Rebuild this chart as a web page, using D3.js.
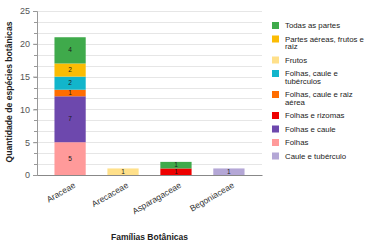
<!DOCTYPE html>
<html lang="en">
<head>
<meta charset="UTF-8"/>
<title>Famílias Botânicas</title>
<script src="https://d3js.org/d3.v7.js"></script>
<style>
  body { margin: 0; background: #fff; }
  text { font-family: "Liberation Sans", Arial, sans-serif; }
</style>
</head>
<body>
<div id="chart"></div>
<script>
// families on the x axis
const families = ["Araceae", "Arecaceae", "Asparagaceae", "Begoniaceae"];

// stack order, bottom to top
const keys = ["Caule e tubérculo", "Folhas", "Folhas e caule", "Folhas e rizomas",
  "Folhas, caule e raiz aérea", "Folhas, caule e tubérculos", "Frutos",
  "Partes aéreas, frutos e raiz", "Todas as partes"];

// values per key, one per family
const cauleTuberculo = [0, 0, 0, 1];
const folhas = [5, 0, 0, 0];
const folhasCaule = [7, 0, 0, 0];
const folhasRizomas = [0, 0, 1, 0];
const folhasCauleRaiz = [1, 0, 0, 0];
const folhasCauleTuber = [2, 0, 0, 0];
const frutos = [0, 1, 0, 0];
const partesAereas = [2, 0, 0, 0];
const todasPartes = [4, 0, 1, 0];

const colors = ["#b4a7d6", "#ff9a9a", "#6d48ad", "#ee0000", "#ff6d01",
  "#12b5cb", "#ffe08a", "#fbbc04", "#3faa4b"];

// legend order (top to bottom)
const legendKeys = ["Todas as partes", "Partes aéreas, frutos e raiz", "Frutos",
  "Folhas, caule e tubérculos", "Folhas, caule e raiz aérea", "Folhas e rizomas",
  "Folhas e caule", "Folhas", "Caule e tubérculo"];
const legendLines = {
  "Partes aéreas, frutos e raiz": ["Partes aéreas, frutos e", "raiz"],
  "Folhas, caule e tubérculos": ["Folhas, caule e", "tubérculos"],
  "Folhas, caule e raiz aérea": ["Folhas, caule e raiz", "aérea"]
};

const yTicks = [0, 5, 10, 15, 20, 25];

const series = [cauleTuberculo, folhas, folhasCaule, folhasRizomas, folhasCauleRaiz,
  folhasCauleTuber, frutos, partesAereas, todasPartes];
const data = families.map((f, i) => {
  const row = {family: f};
  keys.forEach((k, j) => row[k] = series[j][i]);
  return row;
});

const W = 370, H = 245;
const margin = {top: 11, right: 108, bottom: 70, left: 37};
const width = W - margin.left - margin.right,
      height = H - margin.top - margin.bottom;

const svgRoot = d3.select("#chart").append("svg")
  .attr("width", W).attr("height", H);
const svg = svgRoot.append("g")
  .attr("transform", `translate(${margin.left},${margin.top})`);

const x = d3.scaleBand().domain(families).range([0, width]).paddingInner(0.41).paddingOuter(0.33);
const y = d3.scaleLinear().domain([0, 25]).range([height, 0]);
const color = d3.scaleOrdinal().domain(keys).range(colors);

// grid every 5/3 units
const minor = d3.range(0, 25.01, 5 / 3);
svg.append("g").selectAll("line").data(minor).join("line")
  .attr("x1", 0).attr("x2", width)
  .attr("y1", d => Math.round(y(d)) + 0.5).attr("y2", d => Math.round(y(d)) + 0.5)
  .attr("stroke", "#e6e6e6").attr("stroke-width", 1);
// minor ticks on the axis
svg.append("g").selectAll("line").data(minor).join("line")
  .attr("x1", -3).attr("x2", 0)
  .attr("y1", d => Math.round(y(d)) + 0.5).attr("y2", d => Math.round(y(d)) + 0.5)
  .attr("stroke", "#999");

const yAxis = svg.append("g")
  .call(d3.axisLeft(y).tickValues(yTicks).tickSize(4).tickPadding(3));
yAxis.select(".domain").attr("stroke", "#999");
yAxis.selectAll(".tick line").attr("stroke", "#999");
yAxis.selectAll("text").attr("font-size", 9).attr("fill", "#555")
  .attr("font-family", "Liberation Sans, Arial, sans-serif");

const stacked = d3.stack().keys(keys)(data);

const layers = svg.append("g").selectAll("g").data(stacked).join("g")
  .attr("fill", d => color(d.key));
layers.selectAll("rect").data(d => d.filter(s => s[1] - s[0] > 0)).join("rect")
  .attr("x", d => x(d.data.family))
  .attr("y", d => y(d[1]))
  .attr("width", x.bandwidth())
  .attr("height", d => y(d[0]) - y(d[1]));
layers.selectAll("text").data(d => d.filter(s => s[1] - s[0] > 0)).join("text")
  .attr("x", d => x(d.data.family) + x.bandwidth() / 2)
  .attr("y", d => (y(d[0]) + y(d[1])) / 2 + 2)
  .attr("text-anchor", "middle")
  .attr("font-size", 6.5)
  .attr("fill", "#1a1a1a")
  .text(d => d[1] - d[0]);

// x axis
const xAxis = svg.append("g")
  .attr("transform", `translate(0,${height})`)
  .call(d3.axisBottom(x).tickSize(0).tickSizeOuter(0));
xAxis.select(".domain").attr("stroke", "#888").attr("stroke-width", 1.2);
xAxis.selectAll("text")
  .attr("font-size", 8.5).attr("fill", "#333")
  .attr("font-family", "Liberation Sans, Arial, sans-serif")
  .attr("text-anchor", "end")
  .attr("dy", null).attr("y", 0)
  .attr("transform", "translate(6,12) rotate(-30)");

// axis titles
svgRoot.append("text")
  .attr("transform", `translate(12,${margin.top + height / 2 - 1}) rotate(-90)`)
  .attr("text-anchor", "middle")
  .attr("font-size", 8.6).attr("font-weight", "bold").attr("fill", "#222")
  .text("Quantidade de espécies botânicas");
svgRoot.append("text")
  .attr("x", 149.5).attr("y", 240)
  .attr("text-anchor", "middle")
  .attr("font-size", 8.5).attr("font-weight", "bold").attr("fill", "#222")
  .text("Famílias Botânicas");

// legend
const legend = svgRoot.append("g").attr("transform", "translate(272,0)");
let ly = 25.5;
legendKeys.forEach(k => {
  const lines = legendLines[k] || [k];
  legend.append("rect").attr("x", 0).attr("y", ly - 3.5).attr("width", 7).attr("height", 7)
    .attr("fill", color(k));
  const t = legend.append("text").attr("x", 13).attr("y", ly + 2.5)
    .attr("font-size", 7.8).attr("fill", "#222");
  lines.forEach((l, i) => t.append("tspan").attr("x", 13).attr("dy", i ? 7.5 : 0).text(l));
  ly += 13.5 + (lines.length - 1) * 7.5;
});
</script>
</body>
</html>
